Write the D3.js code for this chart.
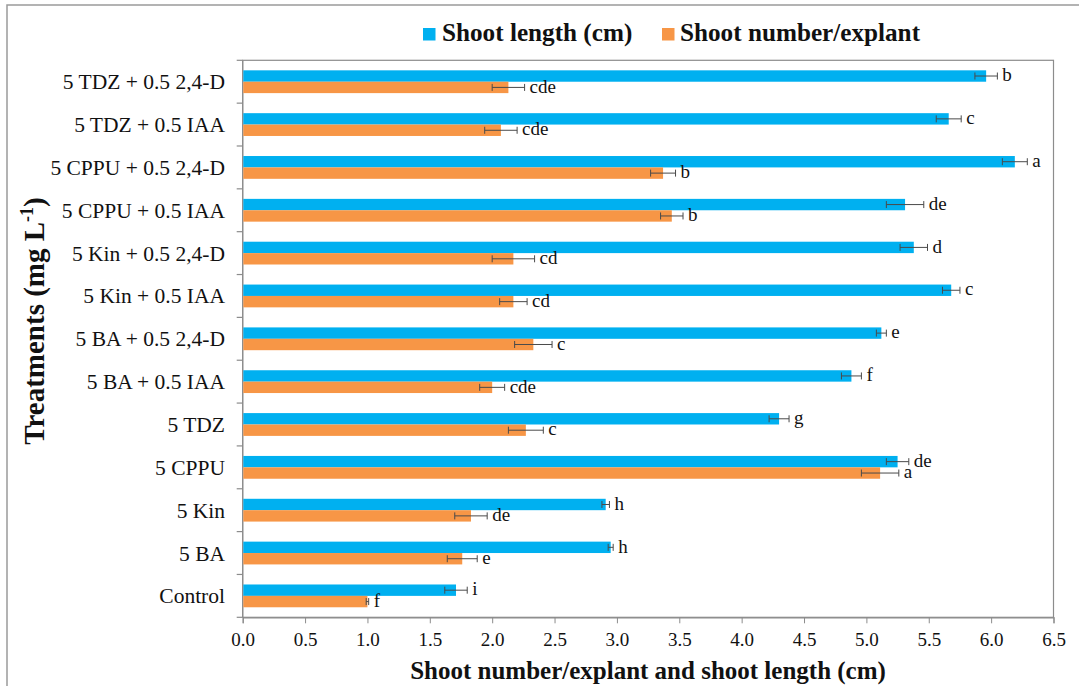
<!DOCTYPE html>
<html>
<head>
<meta charset="utf-8">
<script src="https://cdn.jsdelivr.net/npm/d3@7"></script>
<style>
  html, body { margin: 0; padding: 0; background: #fff; }
  svg { display: block; }
  svg text { font-family: "Liberation Serif", "Times New Roman", serif; }
</style>
</head>
<body>
<svg id="chart" width="1079" height="686"></svg>
<script>
// Treatments, top to bottom
const categories = [
  "5 TDZ + 0.5 2,4-D", "5 TDZ + 0.5 IAA", "5 CPPU + 0.5 2,4-D", "5 CPPU + 0.5 IAA",
  "5 Kin + 0.5 2,4-D", "5 Kin + 0.5 IAA", "5 BA + 0.5 2,4-D", "5 BA + 0.5 IAA",
  "5 TDZ", "5 CPPU", "5 Kin", "5 BA", "Control"
];
const seriesNames = ["Shoot length (cm)", "Shoot number/explant"];

// Shoot length (cm): mean, standard error, significance letter
const shootLength   = [5.96, 5.66, 6.19, 5.31, 5.38, 5.68, 5.12, 4.88, 4.30, 5.25, 2.91, 2.95, 1.71];
const lengthError   = [0.09, 0.10, 0.10, 0.15, 0.11, 0.07, 0.04, 0.08, 0.08, 0.09, 0.03, 0.02, 0.09];
const lengthLetters = ["b", "c", "a", "de", "d", "c", "e", "f", "g", "de", "h", "h", "i"];

// Shoot number per explant: mean, standard error, significance letter
const shootNumber   = [2.13, 2.07, 3.37, 3.44, 2.17, 2.17, 2.33, 2.00, 2.27, 5.11, 1.83, 1.76, 1.00];
const numberError   = [0.13, 0.13, 0.10, 0.09, 0.17, 0.11, 0.15, 0.10, 0.14, 0.15, 0.13, 0.12, 0.01];
const numberLetters = ["cde", "cde", "b", "b", "cd", "cd", "c", "cde", "c", "a", "de", "e", "f"];

const xTicks = [0, 0.5, 1, 1.5, 2, 2.5, 3, 3.5, 4, 4.5, 5, 5.5, 6, 6.5];
const colors = ["#00b0f0", "#f79646"];

const svg = d3.select("#chart");

// outer frame of the figure
svg.append("rect")
  .attr("x", 7).attr("y", 5).attr("width", 1200).attr("height", 800)
  .attr("fill", "none").attr("stroke", "#9a9a9a").attr("stroke-width", 1.5);

const plot = { left: 242.7, right: 1053.5, top: 60.3, bottom: 617.3 };

const x = d3.scaleLinear().domain([0, 6.5]).range([plot.left, plot.right]);
const y = d3.scaleBand().domain(categories).range([plot.top, plot.bottom]).padding(0);
const ySub = d3.scaleBand().domain(seriesNames).range([0, y.bandwidth()]).paddingInner(0).paddingOuter(0.88);

// plot frame
svg.append("rect")
  .attr("x", plot.left).attr("y", plot.top)
  .attr("width", plot.right - plot.left).attr("height", plot.bottom - plot.top)
  .attr("fill", "none").attr("stroke", "#8c8c8c").attr("stroke-width", 1.2);

// x axis
const xAxis = svg.append("g")
  .attr("transform", `translate(0,${plot.bottom})`)
  .call(d3.axisBottom(x).tickValues(xTicks).tickFormat(d3.format(".1f")).tickSize(6).tickPadding(9));
xAxis.attr("font-family", null);
xAxis.select(".domain").attr("stroke", "#8c8c8c").attr("stroke-width", 1.2);
xAxis.selectAll(".tick line").attr("stroke", "#8c8c8c");
xAxis.selectAll(".tick text").attr("font-size", 19).attr("fill", "#111");

// y axis: ticks on category boundaries, labels centred on each band
const yAxisG = svg.append("g").attr("transform", `translate(${plot.left},0)`);
yAxisG.append("line")
  .attr("x1", 0).attr("x2", 0).attr("y1", plot.top).attr("y2", plot.bottom)
  .attr("stroke", "#8c8c8c").attr("stroke-width", 1.2);
const boundaries = categories.map(c => y(c)).concat([plot.bottom]);
yAxisG.selectAll("line.tk").data(boundaries).join("line")
  .attr("class", "tk")
  .attr("x1", -6).attr("x2", 0).attr("y1", d => d).attr("y2", d => d)
  .attr("stroke", "#8c8c8c").attr("stroke-width", 1.2);
svg.append("g").selectAll("text").data(categories).join("text")
  .attr("x", 225)
  .attr("y", d => y(d) + y.bandwidth() / 2)
  .attr("dy", "0.35em")
  .attr("text-anchor", "end")
  .attr("font-size", 21.5)
  .attr("fill", "#111")
  .text(d => d);

// bars, error bars and letters
const rows = categories.map((c, i) => ({
  cat: c,
  vals: [
    { s: seriesNames[0], v: shootLength[i], e: lengthError[i], l: lengthLetters[i] },
    { s: seriesNames[1], v: shootNumber[i], e: numberError[i], l: numberLetters[i] }
  ]
}));

const groups = svg.append("g").selectAll("g").data(rows).join("g")
  .attr("transform", d => `translate(0,${y(d.cat)})`);

const items = groups.selectAll("g.item").data(d => d.vals).join("g").attr("class", "item");

items.append("rect")
  .attr("x", x(0) + 0.6)
  .attr("y", d => ySub(d.s))
  .attr("width", d => x(d.v) - x(0) - 0.6)
  .attr("height", ySub.bandwidth())
  .attr("fill", (d, i) => colors[i]);

const cy = d => ySub(d.s) + ySub.bandwidth() / 2;
items.append("line")
  .attr("x1", d => x(d.v - d.e)).attr("x2", d => x(d.v + d.e))
  .attr("y1", cy).attr("y2", cy)
  .attr("stroke", "#4a4a4a").attr("stroke-width", 1);
items.append("line")
  .attr("x1", d => x(d.v - d.e)).attr("x2", d => x(d.v - d.e))
  .attr("y1", d => cy(d) - 3.5).attr("y2", d => cy(d) + 3.5)
  .attr("stroke", "#4a4a4a").attr("stroke-width", 1);
items.append("line")
  .attr("x1", d => x(d.v + d.e)).attr("x2", d => x(d.v + d.e))
  .attr("y1", d => cy(d) - 3.5).attr("y2", d => cy(d) + 3.5)
  .attr("stroke", "#4a4a4a").attr("stroke-width", 1);

items.append("text")
  .attr("x", d => x(d.v + d.e) + 5)
  .attr("y", d => ySub(d.s) + ySub.bandwidth() - 0.5)
  .attr("font-size", 19)
  .attr("fill", "#111")
  .text(d => d.l);

// legend
const legend = svg.append("g");
const legendPos = [{ sx: 423, tx: 442 }, { sx: 662, tx: 680 }];
seriesNames.forEach((name, i) => {
  legend.append("rect")
    .attr("x", legendPos[i].sx).attr("y", 28).attr("width", 12.5).attr("height", 12.5)
    .attr("fill", colors[i]);
  legend.append("text")
    .attr("x", legendPos[i].tx).attr("y", 41)
    .attr("font-size", 25.2).attr("font-weight", "bold").attr("fill", "#111")
    .text(name);
});

// axis titles
svg.append("text")
  .attr("x", 648).attr("y", 679)
  .attr("text-anchor", "middle")
  .attr("font-size", 25).attr("font-weight", "bold").attr("fill", "#111")
  .text("Shoot number/explant and shoot length (cm)");

const yTitle = svg.append("text")
  .attr("transform", "translate(44,321) rotate(-90)")
  .attr("text-anchor", "middle")
  .attr("font-size", 29).attr("font-weight", "bold").attr("fill", "#111");
yTitle.append("tspan").text("Treatments (mg L");
yTitle.append("tspan").attr("dy", -11).attr("font-size", 18).text("-1");
yTitle.append("tspan").attr("dy", 11).text(")");
</script>
</body>
</html>
